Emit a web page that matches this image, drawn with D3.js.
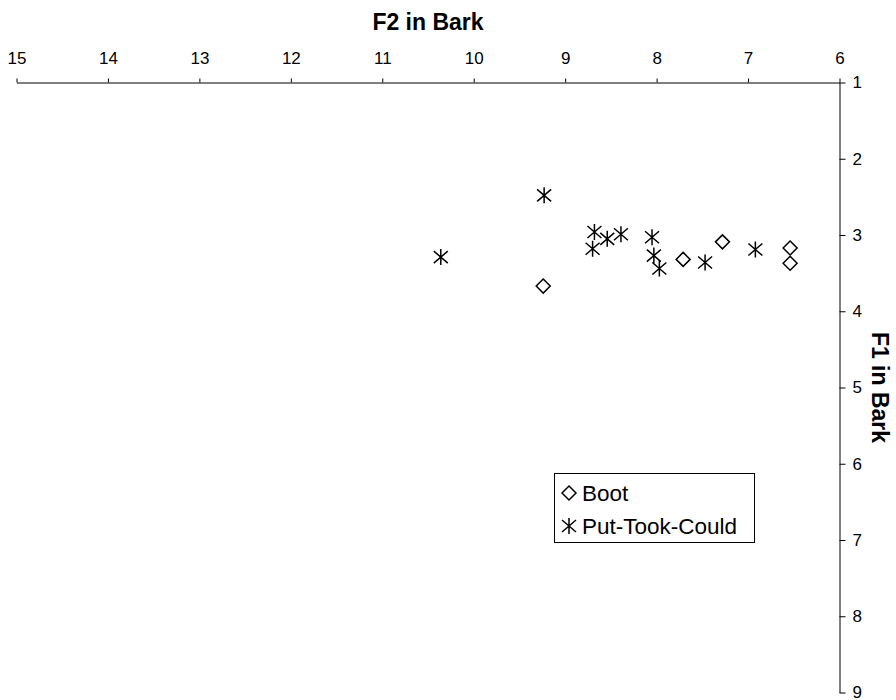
<!DOCTYPE html>
<html>
<head>
<meta charset="utf-8">
<script src="https://cdn.jsdelivr.net/npm/d3@7"></script>
<style>
  body { margin: 0; background: white; }
  svg { display: block; font-family: Arial, "Liberation Sans", sans-serif; }
</style>
</head>
<body>
<div id="chart"></div>
<script>
const width = 896
const height = 700

// F2 / F1 values in Bark
const bootF2 = [9.24, 7.71, 7.28, 6.54, 6.54]
const bootF1 = [3.67, 3.32, 3.09, 3.17, 3.37]
const putF2 = [9.23, 10.36, 8.68, 8.70, 8.54, 8.39, 8.05, 8.03, 7.97, 7.47, 6.92]
const putF1 = [2.48, 3.29, 2.96, 3.18, 3.05, 2.99, 3.03, 3.27, 3.44, 3.36, 3.19]

const xTicks = [15, 14, 13, 12, 11, 10, 9, 8, 7, 6]
const yTicks = [1, 2, 3, 4, 5, 6, 7, 8, 9]
const seriesNames = ['Boot', 'Put-Took-Could']

const svg = d3.select('#chart').append('svg')
    .attr('width', width)
    .attr('height', height)

const x = d3.scaleLinear().domain([15, 6]).range([16.5, 839.5])
const y = d3.scaleLinear().domain([1, 9]).range([82.5, 692.5])

// x axis on top
const xAxis = svg.append('g')
    .attr('transform', `translate(0, ${y(1)})`)
    .call(d3.axisTop(x).tickValues(xTicks).tickSize(4).tickSizeOuter(0).tickPadding(15))
xAxis.selectAll('text').style('font-size', '17px').attr('fill', '#000')

// y axis on the right
const yAxis = svg.append('g')
    .attr('transform', `translate(${x(6)}, 0)`)
    .call(d3.axisRight(y).tickValues(yTicks).tickSize(6).tickSizeOuter(0).tickPadding(7))
yAxis.selectAll('text').style('font-size', '17px').attr('fill', '#000')

// axis titles
svg.append('text')
    .attr('x', (x(15) + x(6)) / 2)
    .attr('y', 30)
    .attr('text-anchor', 'middle')
    .style('font-size', '23px')
    .style('font-weight', 'bold')
    .text('F2 in Bark')

svg.append('text')
    .attr('transform', `translate(872, ${(y(1) + y(9)) / 2}) rotate(90)`)
    .attr('text-anchor', 'middle')
    .style('font-size', '23px')
    .style('font-weight', 'bold')
    .text('F1 in Bark')

// marker shapes
function diamond(g, cx, cy){
    const s = 7
    g.append('path')
        .attr('d', `M${cx},${cy - s}L${cx + s},${cy}L${cx},${cy + s}L${cx - s},${cy}Z`)
        .attr('fill', 'none')
        .attr('stroke', '#000')
        .attr('stroke-width', 1.5)
}
function star(g, cx, cy){
    const w = 7, h = 8, d = 6
    g.append('path')
        .attr('d', `M${cx},${cy - h}V${cy + h}M${cx - w},${cy - d}L${cx + w},${cy + d}M${cx - w},${cy + d}L${cx + w},${cy - d}`)
        .attr('fill', 'none')
        .attr('stroke', '#000')
        .attr('stroke-width', 1.5)
}

const marks = svg.append('g')
bootF2.forEach((v, i) => diamond(marks, x(v), y(bootF1[i])))
putF2.forEach((v, i) => star(marks, x(v), y(putF1[i])))

// legend
const legend = svg.append('g')
legend.append('rect')
    .attr('x', 554.5).attr('y', 473.5)
    .attr('width', 200).attr('height', 69)
    .attr('fill', 'white')
    .attr('stroke', '#000')
    .attr('stroke-width', 1)
seriesNames.forEach((name, i) => {
    const ly = 493 + i * 33
    if(i == 0){
        diamond(legend, 569, ly)
    } else {
        star(legend, 569, ly)
    }
    legend.append('text')
        .attr('x', 582)
        .attr('y', ly + 8)
        .style('font-size', '22.5px')
        .text(name)
})
</script>
</body>
</html>
